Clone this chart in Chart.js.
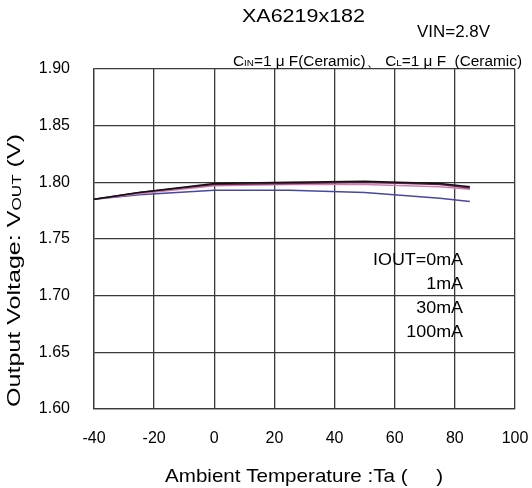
<!DOCTYPE html>
<html><head><meta charset="utf-8">
<script src="https://cdn.jsdelivr.net/npm/chart.js@4"></script>
<style>html,body{margin:0;padding:0;background:#fff}#c{display:block}</style>
</head><body>
<canvas id="c" width="532" height="488"></canvas>
<script>
const temps = [-40, -25, 0, 25, 50, 75, 85];
const iout0mA   = [1.785, 1.791, 1.799, 1.800, 1.801, 1.799, 1.796];
const iout1mA   = [1.785, 1.791, 1.798, 1.799, 1.800, 1.798, 1.795];
const iout30mA  = [1.785, 1.790, 1.797, 1.798, 1.798, 1.796, 1.794];
const iout100mA = [1.785, 1.789, 1.793, 1.793, 1.791, 1.786, 1.783];
const seriesLabels = ['IOUT=0mA', '1mA', '30mA', '100mA'];
const xTicks = [-40, -20, 0, 20, 40, 60, 80, 100];
const yTicks = [1.60, 1.65, 1.70, 1.75, 1.80, 1.85, 1.90];

const FONT = '"Liberation Sans", Arial, sans-serif';
const mk = (arr) => temps.map((t, i) => ({x: t, y: arr[i]}));
const colors = ['#111111', '#6a2050', '#d080b0', '#4848a0'];

// draw a run of [text, size, isSub] parts starting at x (left), stretched to width w
function drawParts(ctx, parts, x, y, w) {
  let total = 0;
  for (const [t, s] of parts) { ctx.font = s + 'px ' + FONT; total += ctx.measureText(t).width; }
  const sx = w ? w / total : 1;
  ctx.save();
  ctx.translate(x, y);
  ctx.scale(sx, 1);
  ctx.textAlign = 'left';
  let px = 0;
  for (const [t, s, sub] of parts) {
    ctx.font = s + 'px ' + FONT;
    ctx.fillText(t, px, sub ? 2 : 0);
    px += ctx.measureText(t).width;
  }
  ctx.restore();
}

const textPlugin = {
  id: 'texts',
  afterDraw(chart) {
    const ctx = chart.ctx;
    ctx.save();
    ctx.fillStyle = '#000';
    ctx.textBaseline = 'middle';
    drawParts(ctx, [['XA6219x182', 18, 0]], 242, 17, 123);
    drawParts(ctx, [['VIN=2.8V', 16, 0]], 417, 33, 73);
    drawParts(ctx, [['C', 14, 0], ['IN', 9, 1], ['=1 μ F(Ceramic)、 C', 14, 0], ['L', 9, 1], ['=1 μ F  (Ceramic)', 14, 0]], 233, 62, 289);
    // series annotations (right aligned at 463)
    ctx.font = '17px ' + FONT;
    const ly = [260, 284, 308, 332];
    const lw = [90, 0, 0, 0];
    seriesLabels.forEach((l, i) => {
      const w = ctx.measureText(l).width;
      const target = i === 0 ? 90 : w * 90 / ctx.measureText(seriesLabels[0]).width;
      drawParts(ctx, [[l, 17, 0]], 463 - target, ly[i], target);
    });
    // x axis title
    drawParts(ctx, [['Ambient Temperature :Ta (     )', 19, 0]], 165, 477, 278);
    // y axis title rotated with subscript
    ctx.save();
    ctx.translate(15, 407);
    ctx.rotate(-Math.PI / 2);
    drawParts(ctx, [['Output Voltage: V', 19, 0], ['OUT', 13, 1], [' (V)', 19, 0]], 0, 0, 273);
    ctx.restore();
    ctx.restore();
  }
};

new Chart(document.getElementById('c'), {
  type: 'line',
  data: {
    datasets: [iout0mA, iout1mA, iout30mA, iout100mA].map((arr, i) => ({
      label: seriesLabels[i],
      data: mk(arr),
      borderColor: colors[i],
      borderWidth: 1.5,
      pointRadius: 0,
      tension: 0,
      fill: false
    }))
  },
  options: {
    responsive: false,
    animation: false,
    layout: {padding: {left: 0, right: 17, top: 69, bottom: 0}},
    plugins: {legend: {display: false}, tooltip: {enabled: false}, title: {display: false}},
    scales: {
      x: {
        type: 'linear', min: -40, max: 100,
        afterBuildTicks: (s) => { s.ticks = xTicks.map(v => ({value: v})); },
        afterFit: (s) => { s.height = 79; s.paddingLeft = 0; s.paddingRight = 0; },
        grid: {color: '#3a3a3a', lineWidth: 1.3, drawTicks: false},
        border: {color: '#3a3a3a', width: 1.3},
        ticks: {padding: 20, color: '#000', font: {family: FONT, size: 16}, maxRotation: 0,
                callback: (v) => String(v)}
      },
      y: {
        type: 'linear', min: 1.6, max: 1.9,
        afterBuildTicks: (s) => { s.ticks = yTicks.map(v => ({value: v})); },
        afterFit: (s) => { s.width = 94; s.paddingTop = 0; s.paddingBottom = 0; },
        grid: {color: '#3a3a3a', lineWidth: 1.3, drawTicks: false},
        border: {color: '#3a3a3a', width: 1.3},
        ticks: {padding: 24, color: '#000', font: {family: FONT, size: 16},
                callback: (v) => Number(v).toFixed(2)}
      }
    }
  },
  plugins: [textPlugin]
});
</script>
</body></html>
